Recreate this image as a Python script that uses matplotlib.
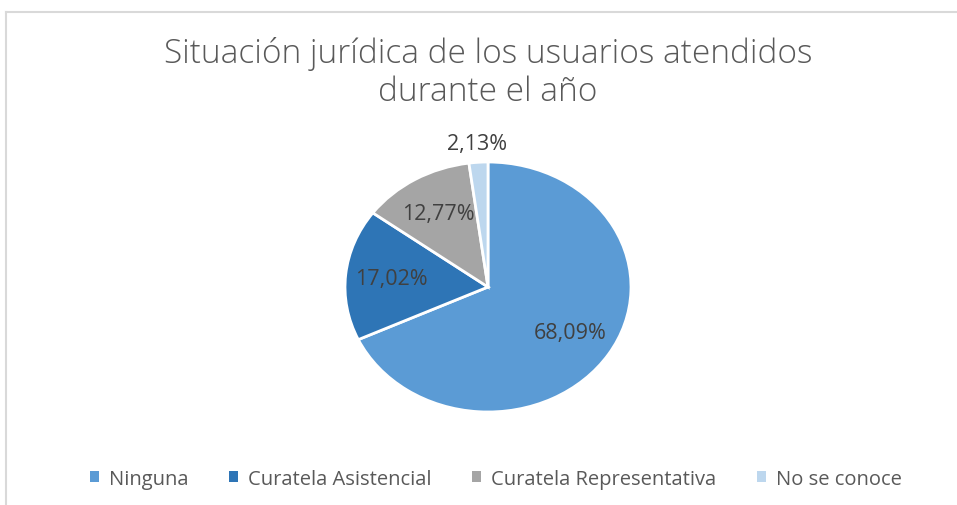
import numpy as np
import matplotlib.pyplot as plt
from matplotlib.patches import Patch
from matplotlib.lines import Line2D

categories = ['Ninguna', 'Curatela Asistencial', 'Curatela Representativa', 'No se conoce']
values = [68.09, 17.02, 12.77, 2.13]
colors = ['#5B9BD5', '#2E75B6', '#A5A5A5', '#BDD7EE']
title = 'Situación jurídica de los usuarios atendidos\ndurante el año'

W, H = 957, 506
plt.rcParams['font.family'] = ['Open Sans', 'DejaVu Sans']
fig = plt.figure(figsize=(W / 100, H / 100), dpi=100)

# chart frame (only left and top edges visible in the crop)
fig.add_artist(Line2D([6 / W, 6 / W], [0, 1 - 13 / H], color='#D9D9D9', lw=1.5))
fig.add_artist(Line2D([6 / W, 1], [1 - 13 / H, 1 - 13 / H], color='#D9D9D9', lw=1.5))

fig.text(488 / W, 1 - 73 / H, title, ha='center', va='center', fontsize=24,
         color='#595959', linespacing=1.2, fontweight='light')

# the pie is slightly squashed vertically in the reference
cx, cy, rx, ry = 488, 288, 143, 125
ax = fig.add_axes([(cx - rx) / W, (H - cy - ry) / H, 2 * rx / W, 2 * ry / H])

wedges, texts, autotexts = ax.pie(values, colors=colors, startangle=90, counterclock=False,
                                  autopct='%1.2f', pctdistance=0.68,
                                  wedgeprops=dict(edgecolor='white', linewidth=2),
                                  textprops=dict(color='#404040', fontsize=15.5))
for t, v in zip(autotexts, values):
    t.set_text(f'{v:.2f}%'.replace('.', ','))

# small slice label goes outside
w = wedges[-1]
mid = np.deg2rad((w.theta1 + w.theta2) / 2)
autotexts[-1].set_position((1.15 * np.cos(mid), 1.15 * np.sin(mid)))

ax.set_aspect('auto')
ax.set_xlim(-1, 1)
ax.set_ylim(-1, 1)
ax.axis('off')

handles = [Patch(facecolor=c, edgecolor='none') for c in colors]
fig.legend(handles, categories, loc='center', bbox_to_anchor=(496 / W, 1 - 480 / H),
           ncol=4, frameon=False, fontsize=14.5, labelcolor='#595959',
           handlelength=0.45, handleheight=0.45, handletextpad=0.5, columnspacing=2.0)

fig.savefig('out.png', dpi=100)
